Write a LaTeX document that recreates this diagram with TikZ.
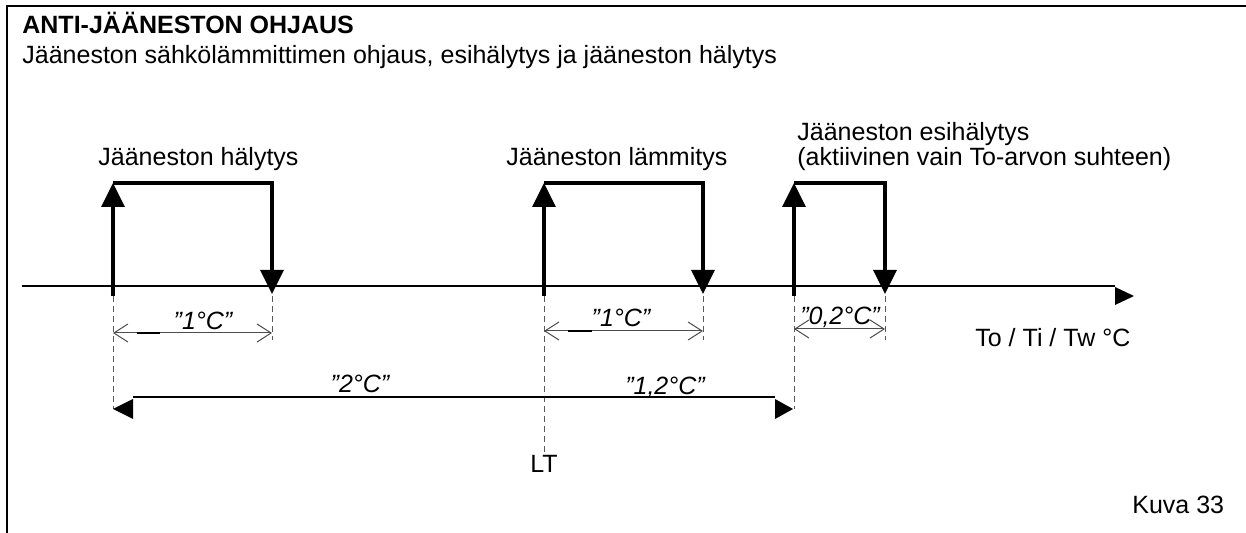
\documentclass[tikz,border=0pt]{standalone}
\usepackage{fontspec}
\setmainfont{Liberation Sans}
\usetikzlibrary{arrows.meta}
\begin{document}
\begin{tikzpicture}[
                x=0.5pt, y=-0.5pt,
                txt/.style={font=\fontsize{12.5}{15}\selectfont, inner sep=0pt},
                val/.style={font=\fontsize{12.5}{15}\selectfont\itshape, inner sep=0pt, anchor=base},
                frame/.style={draw=black, line width=1pt},
                axis/.style={draw=black, line width=0.7pt},
                pulse/.style={draw=black, line width=1.6pt, -{Triangle[length=12pt,width=11.5pt]}},
                guide/.style={draw=black!65, line width=0.5pt, dash pattern=on 3pt off 2pt},
                span/.style={draw=black!70, line width=0.5pt,
                    {Straight Barb[length=7pt,width=9pt]}-{Straight Barb[length=7pt,width=9pt]}},
                tick/.style={draw=black, line width=1.1pt},
                head/.style={fill=black}]
        \useasboundingbox (0,0) rectangle (1246,533);

        % Open frame: top and left edges only.
        \draw[frame] (1246,6) -- (7,6) -- (7,533);
        \node[txt, anchor=base west, font=\fontsize{12.5}{15}\selectfont\bfseries] (title) at (22,34) {ANTI-JÄÄNESTON OHJAUS};
        \node[txt, anchor=base west] (subtitle) at (22,64) {Jääneston sähkölämmittimen ohjaus, esihälytys ja jääneston hälytys};

        % Temperature axis; its head sits a little below the line, as drawn.
        \draw[axis] (22,286) -- (1115,286);
        \fill[head] (1115,287) -- (1134,296) -- (1115,305) -- cycle;
        \node[txt, anchor=base west] (axislabel) at (975,347) {To / Ti / Tw °C};

        % Switching pulses: on at \on, off at \off.
        \foreach \on/\off in {113/272, 544/703, 794/885} {
                \draw[pulse] (\on,296) -- (\on,183);
                \draw[pulse] (\on,183) -- (\off,183) -- (\off,294);
                \draw[guide] (\off,296) -- (\off,340);
        }
        \draw[guide] (113,296) -- (113,409);
        \draw[guide] (794,296) -- (794,409);
        \draw[guide] (544,296) -- (544,455);

        % Pulse titles.
        \node[txt, anchor=base west] (alarm) at (98,166) {Jääneston hälytys};
        \node[txt, anchor=base west] (heating) at (506,166) {Jääneston lämmitys};
        \node[txt, anchor=base west] (prealarm) at (797,141) {Jääneston esihälytys};
        \node[txt, anchor=base west] (prenote) at (797,166) {(aktiivinen vain To-arvon suhteen)};

        % Hysteresis spans.
        \draw[span] (113,333) -- (272,333);
        \draw[tick] (137,333) -- (160,333);
        \node[val] (hystA) at (203,330) {”1°C”};
        \draw[span] (544,331) -- (703,331);
        \draw[tick] (568,331) -- (592,331);
        \node[val] (hystB) at (621,327) {”1°C”};
        \draw[span] (794,329) -- (885,329);
        \node[val] (hystC) at (840,325) {”0,2°C”};

        % Offsets from LT; heads again hang below the line.
        \draw[axis] (133,397) -- (775,397);
        \fill[head] (133,399) -- (113,409) -- (133,419) -- cycle;
        \fill[head] (775,399) -- (793,409) -- (775,419) -- cycle;
        \node[val] (offA) at (360,393) {”2°C”};
        \node[val] (offB) at (665,395) {”1,2°C”};

        \node[txt, anchor=base] (lt) at (544,473) {LT};
        \node[txt, anchor=base west] (fig) at (1132,513) {Kuva 33};
\end{tikzpicture}
\end{document}
